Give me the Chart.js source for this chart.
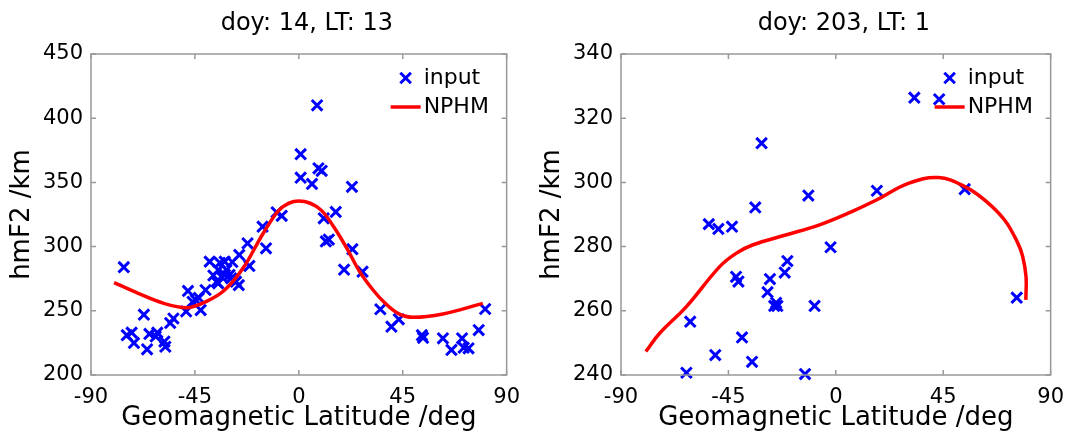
<!DOCTYPE html>
<html>
<head>
<meta charset="utf-8">
<title>hmF2 vs geomagnetic latitude</title>
<script src="https://cdn.jsdelivr.net/npm/chart.js@4/dist/chart.umd.min.js"></script>
<style>
  html, body { margin: 0; padding: 0; background: #fff; }
  #wrap { position: relative; width: 1074px; height: 436px; }
  #wrap canvas { position: absolute; top: 0; }
</style>
</head>
<body>
<div id="wrap">
  <canvas id="winter" width="530" height="436" style="left:0"></canvas>
  <canvas id="summer" width="544" height="436" style="left:530px"></canvas>
</div>
<script>
// ----------------------------------
// Data: doy 14, LT 13
// ----------------------------------
const winterLat = [
  -75.8, -74.5, -72.4, -71.4, -67.1, -65.7, -64.7, -62.0, -61.3, -58.2,
  -57.8, -55.7, -54.3, -48.8, -48.0, -46.0, -44.6, -43.3, -42.5, -40.4,
  -38.6, -37.0, -35.6, -34.9, -34.9, -34.2, -33.5, -32.1, -32.0, -31.4,
  -30.0, -29.3, -28.8, -27.2, -26.0, -25.8, -22.2, -21.4, -15.7, -14.2,
  -9.6, -7.4, 0.8, 0.8, 5.7, 7.9, 8.5, 9.9, 10.8, 11.7,
  13.0, 16.0, 19.6, 23.0, 23.2, 27.6, 35.3, 40.1, 43.3, 53.3,
  53.8, 62.4, 66.1, 70.7, 71.4, 73.5, 77.9, 80.7
];
const winterHmf2 = [
  284, 231, 233, 225, 247, 220, 232, 230, 233, 226,
  222, 240.5, 244, 249.5, 265.5, 257, 258.5, 260, 250.6, 266.2,
  288.3, 277.5, 272.7, 281.8, 271.4, 287.4, 276.6, 288.3, 278, 281.8,
  277.9, 275.3, 288, 272.7, 270, 293.5, 302.6, 284.9, 315.5, 298.7,
  326.7, 324, 372, 353.7, 348.8, 410, 361, 359, 322, 304,
  305.5, 327, 282, 346.6, 298, 280.5, 251.2, 237.6, 243.4, 231,
  229, 228.6, 219.5, 228.6, 221.3, 220.8, 235, 251.4
];
const winterFitLat = [-80, -69.6, -58.5, -48.75, -40.4, -32.1, -23.75, -15.4, -8.5, 0, 9.6, 15.1, 20.7, 26, 31.8, 37.4, 42.9, 49.9, 62.4, 79.7];
const winterFitHmf2 = [272, 263.6, 255.8, 252.4, 257, 266.2, 284.3, 310.4, 328.5, 335.5, 328.5, 315.5, 299, 281.5, 267, 255.8, 248, 244.9, 247.5, 255.8];
const winterTicks = [200, 250, 300, 350, 400, 450];

// ----------------------------------
// Data: doy 203, LT 1
// ----------------------------------
const summerLat = [
  -62.6, -61.0, -53.2, -50.5, -49.2, -43.5, -41.8, -40.8, -39.3, -35.1,
  -33.75, -31.1, -28.6, -27.6, -25.8, -24.5, -25.0, -21.4, -20.3, -12.9,
  -11.5, -8.9, -2.2, 17.2, 32.9, 43.3, 54.0, 75.8
];
const summerHmf2 = [
  240.7, 256.6, 287, 246.2, 285.5, 286.2, 270.6, 269.1, 251.7, 244.1,
  292.2, 312.2, 265.8, 269.9, 261.5, 261.5, 262.5, 271.9, 275.5, 240.3,
  295.9, 261.5, 279.8, 297.4, 326.4, 325.9, 297.9, 264.1
];
const summerFitLat = [-79.6, -73.8, -62.6, -48.75, -41.8, -34.9, -21, -7.1, 6.7, 17, 30.4, 43, 54, 62.4, 70.7, 76.3, 78.3, 79.7, 79.6];
const summerFitHmf2 = [247.3, 253, 261.3, 273.7, 277.9, 280.5, 283.6, 286.7, 290.9, 294.5, 299.7, 301.5, 298.7, 294.5, 288.3, 281, 276.9, 270.6, 263.4];
const summerTicks = [240, 260, 280, 300, 320, 340];

const latTicks = [-90, -45, 0, 45, 90];

const FONT = "'DejaVu Sans', sans-serif";
Chart.defaults.font.family = FONT;
Chart.defaults.color = '#000';

// axes box with inward ticks, panel title and legend
const panelFrame = {
  id: 'panelFrame',
  afterDatasetsDraw(chart, args, opts) {
    const { ctx, chartArea: a, scales: { x, y } } = chart;
    ctx.save();

    ctx.strokeStyle = '#999';
    ctx.lineWidth = 1.5;
    ctx.strokeRect(a.left, a.top, a.width, a.height);
    ctx.beginPath();
    x.ticks.forEach(t => {
      const px = x.getPixelForValue(t.value);
      ctx.moveTo(px, a.bottom); ctx.lineTo(px, a.bottom - 5);
      ctx.moveTo(px, a.top); ctx.lineTo(px, a.top + 5);
    });
    y.ticks.forEach(t => {
      const py = y.getPixelForValue(t.value);
      ctx.moveTo(a.left, py); ctx.lineTo(a.left + 5, py);
      ctx.moveTo(a.right, py); ctx.lineTo(a.right - 5, py);
    });
    ctx.stroke();

    ctx.fillStyle = '#000';
    ctx.font = '24px ' + FONT;
    ctx.textAlign = 'center';
    ctx.textBaseline = 'middle';
    ctx.fillText(opts.text, (a.left + a.right) / 2 + 8, 24);

    // legend
    const pts = chart.data.datasets[0];
    const fit = chart.data.datasets[1];
    const mx = a.right - 101, my = a.top + 24;
    const d = 5.3;
    ctx.strokeStyle = pts.borderColor;
    ctx.lineWidth = pts.borderWidth;
    ctx.beginPath();
    ctx.moveTo(mx - d, my - d); ctx.lineTo(mx + d, my + d);
    ctx.moveTo(mx - d, my + d); ctx.lineTo(mx + d, my - d);
    ctx.stroke();

    const ly = a.top + 53;
    ctx.strokeStyle = fit.borderColor;
    ctx.lineWidth = fit.borderWidth;
    ctx.beginPath();
    ctx.moveTo(a.right - 116, ly); ctx.lineTo(a.right - 86, ly);
    ctx.stroke();

    ctx.font = '22px ' + FONT;
    ctx.textAlign = 'left';
    ctx.fillText(pts.label, a.right - 83, my);
    ctx.fillText(fit.label, a.right - 83, ly);
    ctx.restore();
  }
};

function makePanel(id, title, lat, hm, fitLat, fitHm, yTicks, padRight, curveMode) {
  const input = lat.map((v, i) => ({ x: v, y: hm[i] }));
  const nphm = fitLat.map((v, i) => ({ x: v, y: fitHm[i] }));

  return new Chart(document.getElementById(id), {
    type: 'scatter',
    data: {
      datasets: [
        {
          label: 'input',
          data: input,
          pointStyle: 'crossRot',
          pointRadius: 7.5,
          borderColor: '#0000ff',
          backgroundColor: '#0000ff',
          borderWidth: 3,
          clip: false,
          order: 2
        },
        {
          label: 'NPHM',
          data: nphm,
          showLine: true,
          pointRadius: 0,
          borderColor: '#ff0000',
          borderWidth: 3.5,
          tension: 0.4,
          cubicInterpolationMode: curveMode,
          fill: false,
          order: 1
        }
      ]
    },
    options: {
      responsive: false,
      animation: false,
      layout: { padding: { top: 54, right: padRight, left: 0, bottom: 0 } },
      plugins: {
        legend: { display: false },
        tooltip: { enabled: false },
        panelFrame: { text: title }
      },
      scales: {
        x: {
          type: 'linear',
          min: -90,
          max: 90,
          afterBuildTicks: s => { s.ticks = latTicks.map(v => ({ value: v })); },
          afterFit: s => { s.height = 61; },
          grid: { display: false, drawTicks: false },
          border: { display: false },
          ticks: { padding: 10, font: { size: 21 }, maxRotation: 0, autoSkip: false },
          title: {
            display: true,
            text: 'Geomagnetic Latitude /deg',
            font: { size: 26 },
            padding: { top: 0, bottom: 2 }
          }
        },
        y: {
          type: 'linear',
          min: yTicks[0],
          max: yTicks[yTicks.length - 1],
          afterBuildTicks: s => { s.ticks = yTicks.map(v => ({ value: v })); },
          afterFit: s => { s.width = 91; },
          grid: { display: false, drawTicks: false },
          border: { display: false },
          ticks: { padding: 8, font: { size: 21 }, autoSkip: false },
          title: {
            display: true,
            text: 'hmF2 /km',
            font: { size: 26 },
            padding: { top: 7, bottom: 0 }
          }
        }
      }
    },
    plugins: [panelFrame]
  });
}

makePanel('winter', 'doy: 14, LT: 13', winterLat, winterHmf2, winterFitLat, winterFitHmf2, winterTicks, 7, 'monotone');
makePanel('summer', 'doy: 203, LT: 1', summerLat, summerHmf2, summerFitLat, summerFitHmf2, summerTicks, 21, 'default');
</script>
</body>
</html>
